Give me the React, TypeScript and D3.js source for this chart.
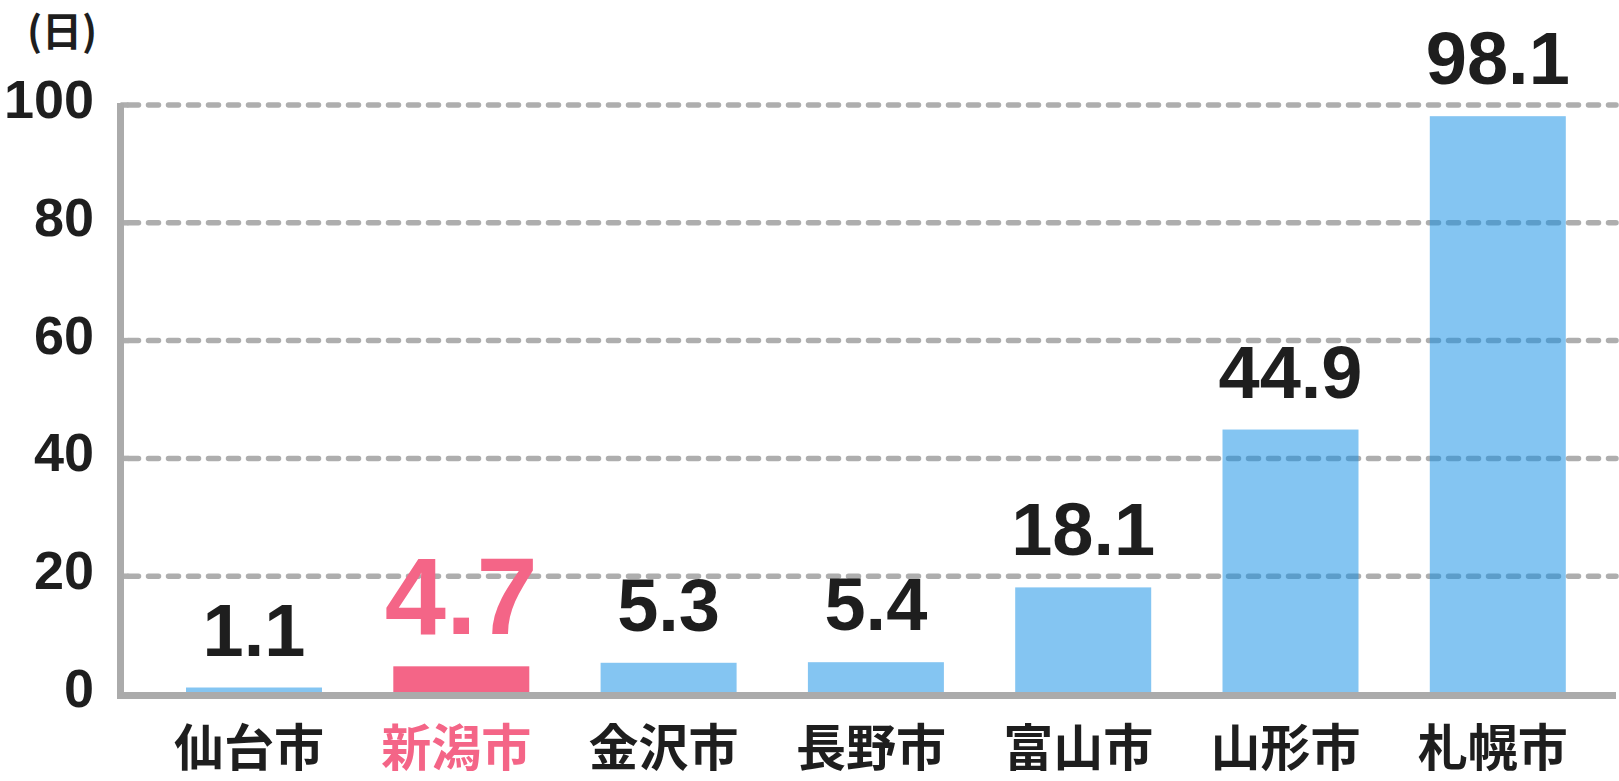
import {useEffect, useRef} from "react";
import * as d3 from "d3";

const cities = ["仙台市", "新潟市", "金沢市", "長野市", "富山市", "山形市", "札幌市"];
const days = [1.1, 4.7, 5.3, 5.4, 18.1, 44.9, 98.1];
const highlightCity = "新潟市";
const yTicks = [0, 20, 40, 60, 80, 100];
const unitLabel = "(日)";

const W = 1619;
const H = 781;

const App = () => {
    const svgRef = useRef<SVGSVGElement | null>(null);

    useEffect(() => {
        const svg = d3.select(svgRef.current);
        svg.selectAll("*").remove();

        const data = cities.map((c, i) => ({city: c, value: days[i]}));

        const x = d3
            .scaleBand<string>()
            .domain(cities)
            .range([150.35, 1601.45])
            .paddingInner(0.344)
            .paddingOuter(0.172);

        const y = d3.scaleLinear().domain([0, 100]).range([694, 105]);

        const axisX = 120.5;
        const rightEnd = 1616;
        const gray = "#ababab";
        const dark = "#1e1e1e";
        const pink = "#f46587";
        const numFont = "'Liberation Sans', Arial, sans-serif";
        const cjkFont = "'Noto Sans CJK JP', sans-serif";

        // dashed gridlines (behind the bars)
        svg
            .append("g")
            .selectAll("line")
            .data(yTicks.filter((t) => t > 0))
            .enter()
            .append("line")
            .attr("x1", axisX + 8)
            .attr("x2", rightEnd)
            .attr("y1", (d) => y(d))
            .attr("y2", (d) => y(d))
            .attr("stroke", "#aeaeae")
            .attr("stroke-width", 5.5)
            .attr("stroke-dasharray", "10 10")
            .attr("stroke-linecap", "round");

        // short solid ticks joining grid to axis
        svg
            .append("g")
            .selectAll("line")
            .data(yTicks.filter((t) => t > 0))
            .enter()
            .append("line")
            .attr("x1", axisX)
            .attr("x2", axisX + 8)
            .attr("y1", (d) => y(d))
            .attr("y2", (d) => y(d))
            .attr("stroke", "#aeaeae")
            .attr("stroke-width", 5.5);

        // bars
        svg
            .append("g")
            .selectAll("rect")
            .data(data)
            .enter()
            .append("rect")
            .attr("x", (d) => x(d.city) as number)
            .attr("width", x.bandwidth())
            .attr("y", (d) => y(d.value))
            .attr("height", (d) => y(0) - y(d.value))
            .attr("fill", (d) => (d.city === highlightCity ? pink : "#0a8be6"))
            .attr("fill-opacity", (d) => (d.city === highlightCity ? 1 : 0.5));

        // axes
        svg
            .append("line")
            .attr("x1", axisX)
            .attr("x2", axisX)
            .attr("y1", y(100) - 2)
            .attr("y2", y(0) + 5)
            .attr("stroke", gray)
            .attr("stroke-width", 7);

        svg
            .append("line")
            .attr("x1", axisX - 3.5)
            .attr("x2", rightEnd)
            .attr("y1", y(0) + 1.5)
            .attr("y2", y(0) + 1.5)
            .attr("stroke", gray)
            .attr("stroke-width", 7);

        // y tick labels
        svg
            .append("g")
            .selectAll("text")
            .data(yTicks)
            .enter()
            .append("text")
            .attr("x", 94)
            .attr("y", (d) => y(d) + 13)
            .attr("text-anchor", "end")
            .attr("font-family", numFont)
            .attr("font-weight", "bold")
            .attr("font-size", 54)
            .attr("fill", dark)
            .text((d) => d);

        // unit
        svg
            .append("text")
            .attr("x", 62)
            .attr("y", 46)
            .attr("text-anchor", "middle")
            .attr("font-family", cjkFont)
            .attr("font-weight", "bold")
            .attr("font-size", 40)
            .attr("fill", dark)
            .text(unitLabel);

        // value labels
        svg
            .append("g")
            .selectAll("text")
            .data(data)
            .enter()
            .append("text")
            .attr("x", (d) => (x(d.city) as number) + x.bandwidth() / 2)
            .attr("y", (d) => y(d.value) - 32)
            .attr("text-anchor", "middle")
            .attr("font-family", numFont)
            .attr("font-weight", "bold")
            .attr("font-size", (d) => (d.city === highlightCity ? 110 : 74))
            .attr("fill", (d) => (d.city === highlightCity ? pink : dark))
            .text((d) => d.value.toFixed(1));

        // category labels
        svg
            .append("g")
            .selectAll("text")
            .data(data)
            .enter()
            .append("text")
            .attr("x", (d) => (x(d.city) as number) + x.bandwidth() / 2 - 5)
            .attr("y", 766)
            .attr("text-anchor", "middle")
            .attr("font-family", cjkFont)
            .attr("font-weight", "bold")
            .attr("font-size", 50)
            .attr("fill", (d) => (d.city === highlightCity ? pink : dark))
            .text((d) => d.city);

        return () => {
            svg.selectAll("*").remove();
        };
    }, []);

    return (
        <svg
            ref={svgRef}
            width={W}
            height={H}
            style={{position: "absolute", left: 0, top: 0, background: "#fff"}}
        ></svg>
    );
};

export default App;
